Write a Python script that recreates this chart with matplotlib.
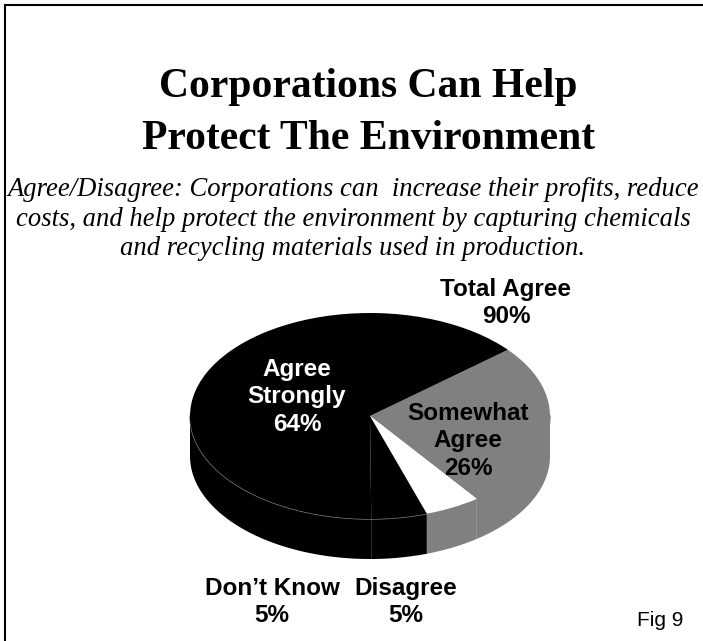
import numpy as np
import matplotlib
matplotlib.use('Agg')
import matplotlib.pyplot as plt

plt.rcParams['font.family'] = 'Liberation Sans'

# survey answers, drawn clockwise starting from the grey slice
labels = ['Somewhat Agree', 'Disagree', 'Don\u2019t Know', 'Agree Strongly']
values = [26, 5, 5, 64]
top_colors = ['#808080', '#ffffff', '#000000', '#000000']
side_colors = ['#808080', '#808080', '#000000', '#000000']
total_agree = values[0] + values[3]

title = 'Corporations Can Help\nProtect The Environment'
question = ('Agree/Disagree: Corporations can  increase their profits, reduce\n'
            'costs, and help protect the environment by capturing chemicals\n'
            'and recycling materials used in production.')

W, H = 703, 641
fig = plt.figure(figsize=(W / 100, H / 100), dpi=100)

# pie: unit circle squashed into an ellipse, with a side wall below it
cx, cy, a, b, depth = 370, 416, 180, 103, 40
d = depth / b
xl, yl = (-1.1, 1.1), (-1 - d - 0.15, 1.12)
left = (cx + xl[0] * a) / W
bottom = (H - (cy - yl[0] * b)) / H
ax = fig.add_axes([left, bottom, (xl[1] - xl[0]) * a / W, (yl[1] - yl[0]) * b / H])

wedges, _ = ax.pie(values, colors=top_colors, startangle=40, counterclock=False,
                   wedgeprops=dict(linewidth=0, zorder=3))
ax.set_aspect('auto')
ax.set_xlim(*xl)
ax.set_ylim(*yl)
ax.axis('off')

for w, c in zip(wedges, side_colors):
    for k in range(-2, 3):
        lo = max(w.theta1, 180 + 360 * k)
        hi = min(w.theta2, 360 + 360 * k)
        if hi <= lo:
            continue
        t = np.radians(np.linspace(lo, hi, 80))
        xs = np.concatenate([np.cos(t), np.cos(t[::-1])])
        ys = np.concatenate([np.sin(t), np.sin(t[::-1]) - d])
        ax.fill(xs, ys, color=c, lw=0, zorder=1)

# thin rim where the top meets the wall
t = np.radians(np.linspace(180, 360, 200))
ax.plot(np.cos(t), np.sin(t), color='#808080', lw=1, zorder=2)

# overlay axes in pixel units for the frame and all text
bg = fig.add_axes([0, 0, 1, 1])
bg.patch.set_alpha(0)
bg.set_xlim(0, W)
bg.set_ylim(H, 0)
bg.axis('off')
bg.plot([5, 5], [5, H], color='black', lw=1.5)
bg.plot([5, W], [5, 5], color='black', lw=1.5)

bg.text(368, 113, title, ha='center', va='center', fontsize=30,
        fontweight='bold', family='Liberation Serif', linespacing=1.45)
bg.text(353, 219, question, ha='center', va='center', fontsize=19.2,
        style='italic', family='Liberation Serif', linespacing=1.22)

lab = dict(ha='center', va='center', fontsize=17.5, fontweight='bold', linespacing=1.25)
bg.text(506, 303, f'Total Agree\n{total_agree}%', **lab)
bg.text(297, 397, f'Agree\nStrongly\n{values[3]}%', color='white', **lab)
bg.text(468, 441, f'Somewhat\nAgree\n{values[0]}%', **lab)
bg.text(272, 602, f'{labels[2]}\n{values[2]}%', **lab)
bg.text(406, 602, f'{labels[1]}\n{values[1]}%', **lab)
bg.text(660, 621, 'Fig 9', ha='center', va='center', fontsize=15)

fig.savefig('out.png', dpi=100)
